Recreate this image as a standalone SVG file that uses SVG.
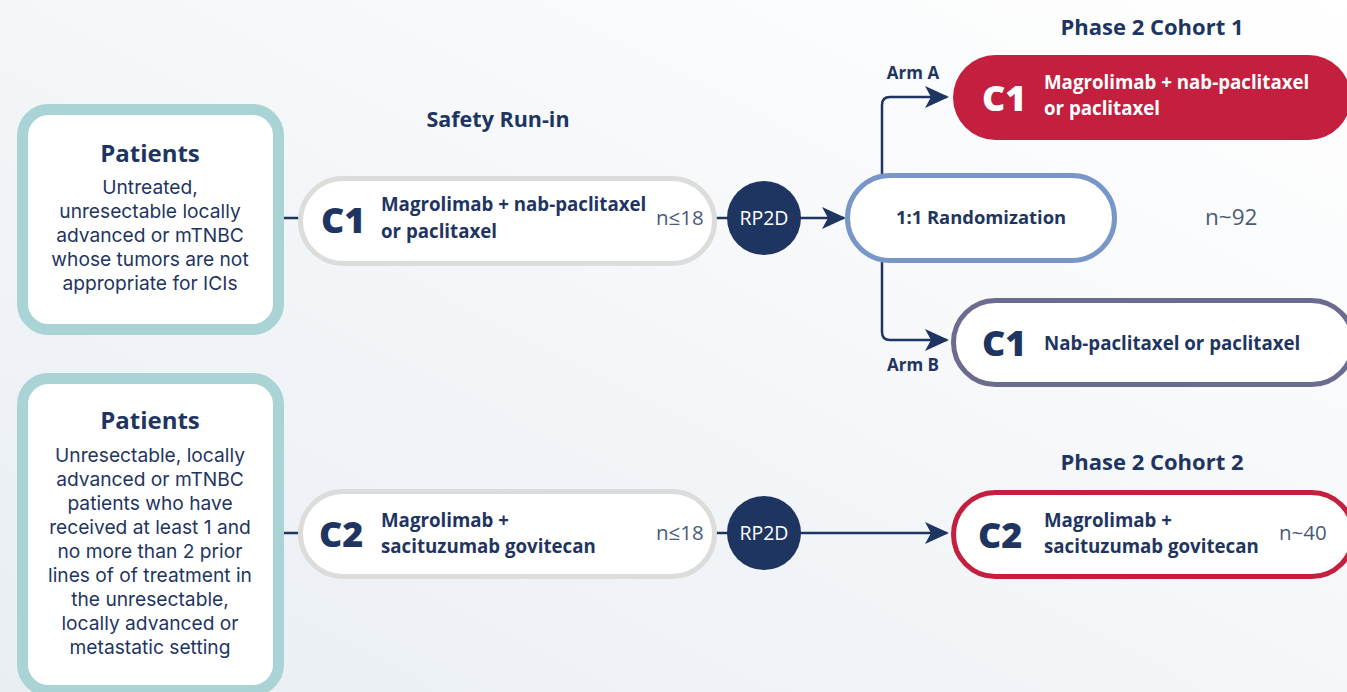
<svg xmlns="http://www.w3.org/2000/svg" width="1347" height="692" viewBox="0 0 1347 692">
<defs>
<linearGradient id="bg" x1="0" y1="1" x2="1" y2="0">
<stop offset="0" stop-color="#e9eef3"/>
<stop offset="0.6" stop-color="#f6f8fa"/>
<stop offset="1" stop-color="#ffffff"/>
</linearGradient>
<marker id="arr" viewBox="0 0 24 22" markerWidth="24" markerHeight="22" refX="22" refY="11" orient="auto" markerUnits="userSpaceOnUse">
<path d="M0,0 L24,11 L0,22 L6,11 z" fill="#1f3561"/>
</marker>
<style>
text{font-family:"Open Sans","Liberation Sans",sans-serif;fill:#1f3561}
.b{font-weight:700}
.pt{font-size:24px;font-weight:700;text-anchor:middle}
.pd{font-family:Inter,"Liberation Sans",sans-serif;font-size:19.2px;text-anchor:middle}
.box{fill:#ffffff;stroke:#a9d3d5;stroke-width:11}
.gp{fill:#ffffff;stroke:#dcdcdb;stroke-width:5}
.cc{font-size:36px;font-weight:800}
.tx{font-size:18.7px;font-weight:700}
.n{font-size:20.5px;fill:#4a5a7a}
.rp{fill:#1f3561}
.rpt{font-size:19.5px;fill:#ffffff;text-anchor:middle}
.ln{fill:none;stroke:#1f3561;stroke-width:2.5}
.hd{font-size:22px;font-weight:700;text-anchor:middle}
.arm{font-size:17px;font-weight:700;text-anchor:middle}
</style>
</defs>
<rect width="1347" height="692" fill="url(#bg)"/>

<g id="connectors">
<line class="ln" x1="284" y1="218" x2="300" y2="218"/>
<line class="ln" x1="716" y1="218" x2="728" y2="218"/>
<line class="ln" x1="800" y1="218" x2="844" y2="218" marker-end="url(#arr)"/>
<path class="ln" d="M882,175 V105 Q882,97 890,97 H947" marker-end="url(#arr)"/>
<path class="ln" d="M882,262 V332 Q882,340 890,340 H947" marker-end="url(#arr)"/>
<line class="ln" x1="284" y1="533" x2="300" y2="533"/>
<line class="ln" x1="716" y1="533" x2="728" y2="533"/>
<line class="ln" x1="800" y1="533" x2="947" y2="533" marker-end="url(#arr)"/>
</g>

<g id="patients1">
<rect class="box" x="22.5" y="109.5" width="256" height="220" rx="26"/>
<text class="pt" x="150" y="162">Patients</text>
<text class="pd" x="150" y="194">Untreated,</text>
<text class="pd" x="150" y="218">unresectable locally</text>
<text class="pd" x="150" y="242">advanced or mTNBC</text>
<text class="pd" x="150" y="266">whose tumors are not</text>
<text class="pd" x="150" y="290">appropriate for ICIs</text>
</g>

<g id="patients2">
<rect class="box" x="22.5" y="378.5" width="256" height="312" rx="26"/>
<text class="pt" x="150" y="429">Patients</text>
<text class="pd" x="150" y="462">Unresectable, locally</text>
<text class="pd" x="150" y="486">advanced or mTNBC</text>
<text class="pd" x="150" y="510">patients who have</text>
<text class="pd" x="150" y="534">received at least 1 and</text>
<text class="pd" x="150" y="558">no more than 2 prior</text>
<text class="pd" x="150" y="582">lines of of treatment in</text>
<text class="pd" x="150" y="606">the unresectable,</text>
<text class="pd" x="150" y="630">locally advanced or</text>
<text class="pd" x="150" y="654">metastatic setting</text>
</g>

<g id="safety-title">
<text class="hd" x="498" y="127" style="font-size:21.5px">Safety Run-in</text>
</g>

<g id="c1-safety">
<rect class="gp" x="300.5" y="178.5" width="414" height="85" rx="42.5"/>
<text class="cc" x="321" y="233">C1</text>
<text class="tx" x="381" y="211">Magrolimab + nab-paclitaxel<tspan x="381" dy="27">or paclitaxel</tspan></text>
<text class="n" x="656" y="225">n≤18</text>
</g>

<g id="rp2d1">
<circle class="rp" cx="764" cy="218" r="37"/>
<text class="rpt" x="764" y="225">RP2D</text>
</g>

<g id="randomization">
<rect x="847.5" y="175.5" width="267" height="85" rx="42.5" fill="#ffffff" stroke="#7896c8" stroke-width="5"/>
<text class="b" x="981" y="224" style="font-size:18.4px;text-anchor:middle">1:1 Randomization</text>
<text class="n" x="1205" y="225" style="font-size:22.5px">n~92</text>
</g>

<g id="arm-labels">
<text class="arm" x="913" y="79">Arm A</text>
<text class="arm" x="913" y="371">Arm B</text>
</g>

<g id="cohort1-title">
<text class="hd" x="1152" y="35">Phase 2 Cohort 1</text>
</g>

<g id="c1-armA">
<rect x="953" y="55" width="398" height="85" rx="42.5" fill="#c41f3e"/>
<text class="cc" x="982" y="111" style="fill:#ffffff">C1</text>
<text class="tx" x="1044" y="89" style="fill:#ffffff">Magrolimab + nab-paclitaxel<tspan x="1044" dy="26">or paclitaxel</tspan></text>
</g>

<g id="c1-armB">
<rect x="953.5" y="300.5" width="400" height="84" rx="42" fill="#ffffff" stroke="#6a6b8e" stroke-width="5"/>
<text class="cc" x="982" y="356">C1</text>
<text class="tx" x="1044" y="350">Nab-paclitaxel or paclitaxel</text>
</g>

<g id="c2-safety">
<rect class="gp" x="300.5" y="491.5" width="414" height="85" rx="42.5"/>
<text class="cc" x="319" y="547">C2</text>
<text class="tx" x="381" y="527">Magrolimab +<tspan x="381" dy="26">sacituzumab govitecan</tspan></text>
<text class="n" x="656" y="540">n≤18</text>
</g>

<g id="rp2d2">
<circle class="rp" cx="764" cy="533" r="37"/>
<text class="rpt" x="764" y="540">RP2D</text>
</g>

<g id="cohort2-title">
<text class="hd" x="1152" y="470">Phase 2 Cohort 2</text>
</g>

<g id="c2-cohort">
<rect x="953.5" y="492.5" width="400" height="84" rx="42" fill="#ffffff" stroke="#c41f3e" stroke-width="5"/>
<text class="cc" x="978" y="548">C2</text>
<text class="tx" x="1044" y="527">Magrolimab +<tspan x="1044" dy="26">sacituzumab govitecan</tspan></text>
<text class="n" x="1279" y="540">n~40</text>
</g>
</svg>
